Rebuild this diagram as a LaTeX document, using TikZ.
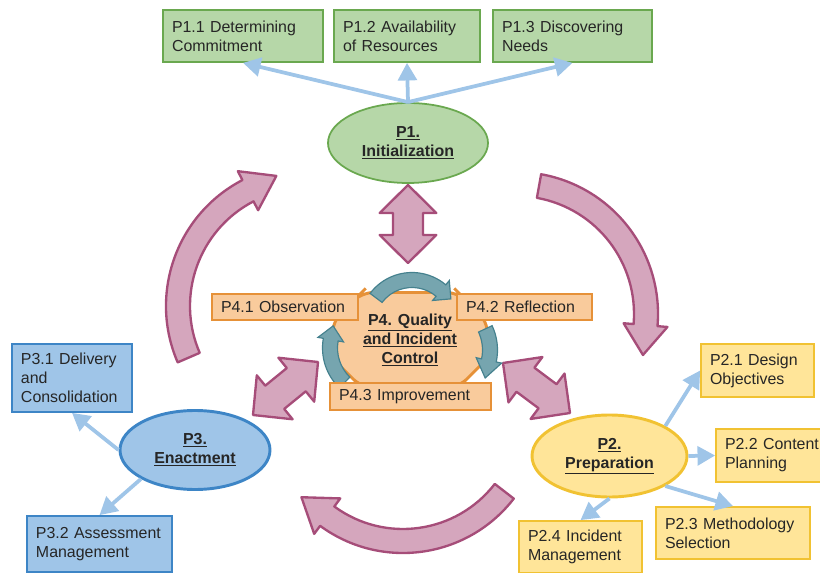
\documentclass[tikz,border=0pt]{standalone}
\usepackage{fontspec}
\setmainfont{Liberation Sans}
\usetikzlibrary{arrows.meta, calc, shapes.geometric, shapes.misc}
\definecolor{greenfill}{HTML}{B6D7A8}
\definecolor{greenline}{HTML}{6AA84F}
\definecolor{bluefill}{HTML}{9FC5E8}
\definecolor{blueline}{HTML}{3D85C6}
\definecolor{yellowfill}{HTML}{FFE599}
\definecolor{yellowline}{HTML}{F1C232}
\definecolor{orangefill}{HTML}{F9CB9C}
\definecolor{orangeline}{HTML}{E69138}
\definecolor{tealfill}{HTML}{76A5AF}
\definecolor{tealline}{HTML}{45818E}
\definecolor{pinkfill}{HTML}{D5A6BD}
\definecolor{pinkline}{HTML}{A64D79}
\definecolor{linkblue}{HTML}{9FC5E8}

% curved block arrow: [style]{centre}{radius}{start}{head}{tip length}{half shaft}{half head}
\newcommand{\bendarrow}[8][]{%
  \begin{scope}[shift={#2}]
    \filldraw[#1] (#4:{#3+#7}) arc[start angle=#4, end angle=#5, radius={#3+#7}]
      -- (#5:{#3+#8})
      -- ({#3*cos(#5)-#6*sin(#5)}, {#3*sin(#5)+#6*cos(#5)})
      -- (#5:{#3-#8}) -- (#5:{#3-#7})
      arc[start angle=#5, end angle=#4, radius={#3-#7}] -- cycle;
  \end{scope}}

% straight double block arrow between two coordinates
\newcommand{\twoway}[2]{%
  \filldraw[bigarrow] (#1)
    -- ($(#1)!0.84cm!(#2)!0.85cm!90:(#2)$)
    -- ($(#1)!0.84cm!(#2)!0.45cm!90:(#2)$)
    -- ($(#2)!0.84cm!(#1)!0.45cm!-90:(#1)$)
    -- ($(#2)!0.84cm!(#1)!0.85cm!-90:(#1)$)
    -- (#2)
    -- ($(#2)!0.84cm!(#1)!0.85cm!90:(#1)$)
    -- ($(#2)!0.84cm!(#1)!0.45cm!90:(#1)$)
    -- ($(#1)!0.84cm!(#2)!0.45cm!-90:(#2)$)
    -- ($(#1)!0.84cm!(#2)!0.85cm!-90:(#2)$)
    -- cycle;}

\begin{document}
\begin{tikzpicture}[
    x=0.03cm, y=-0.03cm,
    every node/.style={font=\fontsize{13.6}{16.2}\selectfont, text=black!85},
    task/.style={rectangle, draw, line width=1.5pt, align=left, inner xsep=0.27cm, inner ysep=0pt},
    phase/.style={ellipse, draw, line width=2.5pt, align=center, inner sep=0pt, font=\fontsize{13.6}{16.2}\selectfont\bfseries},
    link/.style={-{Triangle[length=15pt, width=16pt]}, draw=linkblue, line width=3.2pt},
    bigarrow/.style={fill=pinkfill, draw=pinkline, line width=2pt, line join=round},
    cyclearrow/.style={fill=tealfill, draw=tealline, line width=1pt}
]
\useasboundingbox (0,0) rectangle (820,573);

% cycle between the phases
\bendarrow[bigarrow]{(308,306)}{130}{156.6}{242.5}{32}{12}{22}
\bendarrow[bigarrow]{(516,314)}{130}{-79.8}{4.9}{30}{12}{22}
\bendarrow[bigarrow]{(403,413)}{128}{37.7}{126.3}{32}{12}{22}

% links to the control phase
\coordinate (top1) at (408,185);
\coordinate (top4) at (408,263);
\coordinate (left4) at (318,362);
\coordinate (left3) at (253,415);
\coordinate (right4) at (503,363);
\coordinate (right2) at (570,413);
\twoway{top1}{top4}
\twoway{left4}{left3}
\twoway{right4}{right2}

% P4
\node[chamfered rectangle, draw=orangeline, fill=orangefill, line width=2.5pt,
      minimum width=4.65cm, minimum height=2.85cm, chamfered rectangle xsep=0.75cm,
      rounded corners=0.35cm, inner sep=0pt, align=center,
      font=\fontsize{13.6}{16.2}\selectfont\bfseries] (p4) at (410,340)
      {\underline{P4. Quality}\\\underline{and Incident}\\\underline{Control}};
\bendarrow[cyclearrow]{(412,325)}{45}{-143}{-50}{13}{7.5}{13}
\bendarrow[cyclearrow]{(440,350)}{50}{-25}{12}{18}{7.5}{13}
\bendarrow[cyclearrow]{(378,348)}{48}{134}{190}{14}{7.5}{13}
\node[task, fill=orangefill, draw=orangeline, text width=3.84cm, minimum height=0.78cm] (p41) at (285,307) {P4.1 Observation};
\node[task, fill=orangefill, draw=orangeline, text width=3.51cm, minimum height=0.78cm] (p42) at (524.5,307) {P4.2 Reflection};
\node[task, fill=orangefill, draw=orangeline, text width=4.29cm, minimum height=0.81cm] (p43) at (410.5,396.5) {P4.3 Improvement};

% P1
\node[phase, fill=greenfill, draw=greenline, line width=1.5pt, minimum width=4.8cm, minimum height=2.4cm] (p1) at (408,143) {\underline{P1.}\\\underline{Initialization}};
\node[task, fill=greenfill, draw=greenline, text width=4.26cm, minimum height=1.56cm] (p11) at (243,36) {P1.1 Determining\\Commitment};
\node[task, fill=greenfill, draw=greenline, text width=3.84cm, minimum height=1.56cm] (p12) at (407,36) {P1.2 Availability\\of Resources};
\node[task, fill=greenfill, draw=greenline, text width=4.23cm, minimum height=1.56cm] (p13) at (572.5,36) {P1.3 Discovering\\Needs};
\draw[link] (p1.north) -- (p11.south);
\draw[link] (p1.north) -- (p12.south);
\draw[link] (p1.north) -- (p13.south);

% P3
\node[phase, fill=bluefill, draw=blueline, minimum width=4.5cm, minimum height=2.37cm] (p3) at (195,450) {\underline{P3.}\\\underline{Enactment}};
\node[task, fill=bluefill, draw=blueline, text width=3.06cm, minimum height=2.04cm] (p31) at (72,378) {P3.1 Delivery\\and\\Consolidation};
\node[task, fill=bluefill, draw=blueline, text width=3.81cm, minimum height=1.68cm] (p32) at (99.5,544) {P3.2 Assessment\\Management};
\draw[link] (p3.west) -- (p31.south);
\draw[link] (p3.south west) -- (p32.north);

% P2
\node[phase, fill=yellowfill, draw=yellowline, minimum width=4.65cm, minimum height=2.46cm] (p2) at (609.5,456) {\underline{P2.}\\\underline{Preparation}};
\node[task, fill=yellowfill, draw=yellowline, text width=2.85cm, minimum height=1.59cm] (p21) at (757.5,370.5) {P2.1 Design\\Objectives};
\node[task, fill=yellowfill, draw=yellowline, text width=2.88cm, minimum height=1.59cm] (p22) at (773,455.5) {P2.2 Content\\Planning};
\node[task, fill=yellowfill, draw=yellowline, text width=4.08cm, minimum height=1.56cm] (p23) at (733,533) {P2.3 Methodology\\Selection};
\node[task, fill=yellowfill, draw=yellowline, text width=3.15cm, minimum height=1.56cm] (p24) at (580.5,547) {P2.4 Incident\\Management};
\draw[link] (p2.north east) -- (p21.west);
\draw[link] (p2.east) -- (p22.west);
\draw[link] (p2.south east) -- (p23.north);
\draw[link] (p2.south) -- (p24.north);
\end{tikzpicture}
\end{document}
